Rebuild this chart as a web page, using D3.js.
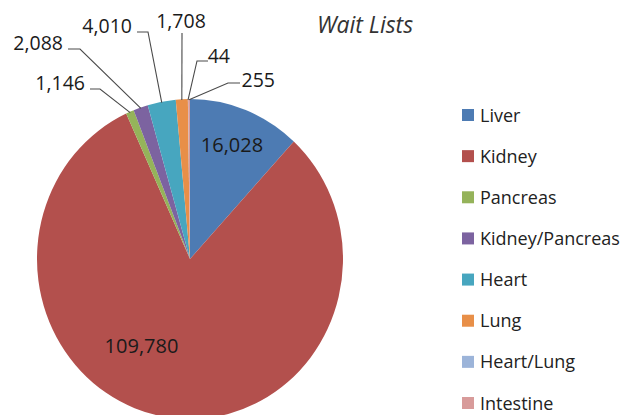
<!DOCTYPE html>
<html>
<head>
<meta charset="utf-8">
<script src="https://cdn.jsdelivr.net/npm/d3@7"></script>
<style>
    body { margin: 0; background: #fff; }
    text { font-family: "Open Sans", "Liberation Sans", sans-serif; }
</style>
</head>
<body>
<div id="chart"></div>
<script>
var organs = ["Liver", "Kidney", "Pancreas", "Kidney/Pancreas", "Heart", "Lung", "Heart/Lung", "Intestine"],
    waitCounts = [16028, 109780, 1146, 2088, 4010, 1708, 44, 255],
    organColors = ["#4d7bb3", "#b3504d", "#95b35a", "#7c63a0", "#47a6bf", "#e88f48", "#9cb4d9", "#d89b9a"];

// label placement, Excel-ish (x = text end / centre, y = baseline)
var insideLabels = {
    0: { x: 232, y: 152 },
    1: { x: 141.5, y: 353 }
};
var outsideLabels = {
    2: { x: 85, y: 90, anchor: "end", elbow: [[90, 89], [100, 89]] },
    3: { x: 63, y: 50, anchor: "end", elbow: [[68, 49], [80, 49]] },
    4: { x: 132, y: 33, anchor: "end", elbow: [[137, 32], [148, 32]] },
    5: { x: 181, y: 28, anchor: "middle", elbow: [[182, 33]] },
    6: { x: 230, y: 63, anchor: "end", elbow: [[208, 61], [197, 61]] },
    7: { x: 275, y: 87, anchor: "end", elbow: [[240, 83], [228, 83]] }
};

var width = 642, height = 415,
    cx = 190, cy = 259,
    rx = 153, ry = 160; // picture is a touch taller than wide

var svg = d3.select("#chart").append("svg")
    .attr("width", width)
    .attr("height", height);

var pie = d3.pie().sort(null).value(function (d) { return d; });
var slices = pie(waitCounts);

var arc = d3.arc().innerRadius(0).outerRadius(rx);

var pieGroup = svg.append("g")
    .attr("transform", "translate(" + cx + "," + cy + ") scale(1," + (ry / rx) + ")");

pieGroup.selectAll("path")
    .data(slices)
    .enter().append("path")
    .attr("d", arc)
    .attr("fill", function (d, i) { return organColors[i]; });

var fmt = d3.format(",");

function edgePoint(d, k) {
    var a = (d.startAngle + d.endAngle) / 2;
    return [cx + rx * k * Math.sin(a), cy - ry * k * Math.cos(a)];
}

// big slices get labels inside
Object.keys(insideLabels).forEach(function (k) {
    var d = slices[+k], lab = insideLabels[k];
    svg.append("text")
        .attr("x", lab.x)
        .attr("y", lab.y)
        .attr("text-anchor", "middle")
        .attr("font-size", 20)
        .attr("fill", "#1a1a1a")
        .text(fmt(d.data));
});

// outside labels with leader lines
var line = d3.line();
Object.keys(outsideLabels).forEach(function (k) {
    var d = slices[+k], lab = outsideLabels[k];
    var pts = lab.elbow.concat([edgePoint(d, 0.995)]);
    svg.append("path")
        .attr("d", line(pts))
        .attr("fill", "none")
        .attr("stroke", "#4a4a4a")
        .attr("stroke-width", 1.1);
    svg.append("text")
        .attr("x", lab.x)
        .attr("y", lab.y)
        .attr("text-anchor", lab.anchor)
        .attr("font-size", 19.5)
        .attr("fill", "#1a1a1a")
        .text(fmt(d.data));
});

// title
svg.append("text")
    .attr("x", 365)
    .attr("y", 33)
    .attr("text-anchor", "middle")
    .attr("font-size", 23)
    .attr("font-style", "italic")
    .attr("fill", "#333")
    .text("Wait Lists");

// legend
var legendY = d3.scalePoint().domain(organs).range([115, 403]);
var legend = svg.append("g").selectAll("g")
    .data(organs)
    .enter().append("g")
    .attr("transform", function (d) { return "translate(462," + legendY(d) + ")"; });

legend.append("rect")
    .attr("x", 0).attr("y", -6)
    .attr("width", 12).attr("height", 12)
    .attr("fill", function (d, i) { return organColors[i]; });

legend.append("text")
    .attr("x", 18)
    .attr("y", 6.5)
    .attr("font-size", 18)
    .attr("fill", "#222")
    .text(function (d) { return d; });
</script>
</body>
</html>
